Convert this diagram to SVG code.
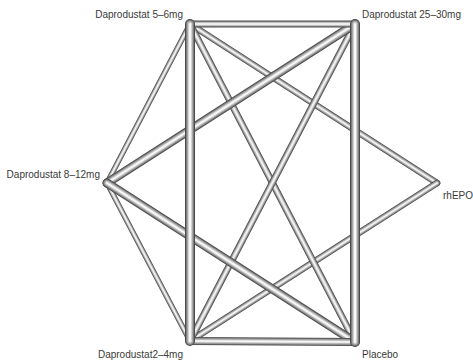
<svg xmlns="http://www.w3.org/2000/svg" width="473" height="362" viewBox="0 0 473 362">
<style>
.bg{fill:#ffffff}
.lbl{font-family:"Liberation Sans",Arial,sans-serif;font-size:10px;fill:#3a3a3a}
.edge line{stroke-linecap:round}
.l1{stroke:#4a4a4a}
.l2{stroke:#7e7e7e}
.l3{stroke:#a8a8a8}
.l4{stroke:#d2d2d2}
.l5{stroke:#f7f7f7}
</style>
<rect class="bg" x="0" y="0" width="473" height="362"/>
<g id="connectors">
<g class="edge" id="e-56-812">
<line class="l1" x1="190" y1="24" x2="107" y2="183" stroke-width="5.5"/>
<line class="l2" x1="190" y1="24" x2="107" y2="183" stroke-width="4.4"/>
<line class="l3" x1="190" y1="24" x2="107" y2="183" stroke-width="3.3"/>
<line class="l4" x1="190" y1="24" x2="107" y2="183" stroke-width="2.2"/>
<line class="l5" x1="190" y1="24" x2="107" y2="183" stroke-width="1.1"/>
</g>
<g class="edge" id="e-812-24">
<line class="l1" x1="107" y1="183" x2="190" y2="341" stroke-width="5.5"/>
<line class="l2" x1="107" y1="183" x2="190" y2="341" stroke-width="4.4"/>
<line class="l3" x1="107" y1="183" x2="190" y2="341" stroke-width="3.3"/>
<line class="l4" x1="107" y1="183" x2="190" y2="341" stroke-width="2.2"/>
<line class="l5" x1="107" y1="183" x2="190" y2="341" stroke-width="1.1"/>
</g>
<g class="edge" id="e-56-epo">
<line class="l1" x1="190" y1="24" x2="437" y2="183" stroke-width="6.5"/>
<line class="l2" x1="190" y1="24" x2="437" y2="183" stroke-width="5.2"/>
<line class="l3" x1="190" y1="24" x2="437" y2="183" stroke-width="3.9"/>
<line class="l4" x1="190" y1="24" x2="437" y2="183" stroke-width="2.6"/>
<line class="l5" x1="190" y1="24" x2="437" y2="183" stroke-width="1.3"/>
</g>
<g class="edge" id="e-24-epo">
<line class="l1" x1="190" y1="341" x2="437" y2="183" stroke-width="6.5"/>
<line class="l2" x1="190" y1="341" x2="437" y2="183" stroke-width="5.2"/>
<line class="l3" x1="190" y1="341" x2="437" y2="183" stroke-width="3.9"/>
<line class="l4" x1="190" y1="341" x2="437" y2="183" stroke-width="2.6"/>
<line class="l5" x1="190" y1="341" x2="437" y2="183" stroke-width="1.3"/>
</g>
<g class="edge" id="e-56-pl">
<line class="l1" x1="190" y1="24" x2="355" y2="342" stroke-width="7"/>
<line class="l2" x1="190" y1="24" x2="355" y2="342" stroke-width="5.6"/>
<line class="l3" x1="190" y1="24" x2="355" y2="342" stroke-width="4.2"/>
<line class="l4" x1="190" y1="24" x2="355" y2="342" stroke-width="2.8"/>
<line class="l5" x1="190" y1="24" x2="355" y2="342" stroke-width="1.4"/>
</g>
<g class="edge" id="e-2530-24">
<line class="l1" x1="355" y1="24" x2="190" y2="341" stroke-width="7"/>
<line class="l2" x1="355" y1="24" x2="190" y2="341" stroke-width="5.6"/>
<line class="l3" x1="355" y1="24" x2="190" y2="341" stroke-width="4.2"/>
<line class="l4" x1="355" y1="24" x2="190" y2="341" stroke-width="2.8"/>
<line class="l5" x1="355" y1="24" x2="190" y2="341" stroke-width="1.4"/>
</g>
<g class="edge" id="e-2530-812">
<line class="l1" x1="355" y1="24" x2="107" y2="183" stroke-width="9"/>
<line class="l2" x1="355" y1="24" x2="107" y2="183" stroke-width="7.2"/>
<line class="l3" x1="355" y1="24" x2="107" y2="183" stroke-width="5.4"/>
<line class="l4" x1="355" y1="24" x2="107" y2="183" stroke-width="3.6"/>
<line class="l5" x1="355" y1="24" x2="107" y2="183" stroke-width="1.8"/>
</g>
<g class="edge" id="e-812-pl">
<line class="l1" x1="107" y1="183" x2="355" y2="342" stroke-width="9"/>
<line class="l2" x1="107" y1="183" x2="355" y2="342" stroke-width="7.2"/>
<line class="l3" x1="107" y1="183" x2="355" y2="342" stroke-width="5.4"/>
<line class="l4" x1="107" y1="183" x2="355" y2="342" stroke-width="3.6"/>
<line class="l5" x1="107" y1="183" x2="355" y2="342" stroke-width="1.8"/>
</g>
<g class="edge" id="e-56-2530">
<line class="l1" x1="190" y1="24" x2="355" y2="24" stroke-width="7"/>
<line class="l2" x1="190" y1="24" x2="355" y2="24" stroke-width="5.6"/>
<line class="l3" x1="190" y1="24" x2="355" y2="24" stroke-width="4.2"/>
<line class="l4" x1="190" y1="24" x2="355" y2="24" stroke-width="2.8"/>
<line class="l5" x1="190" y1="24" x2="355" y2="24" stroke-width="1.4"/>
</g>
<g class="edge" id="e-24-pl">
<line class="l1" x1="190" y1="341" x2="355" y2="342" stroke-width="8"/>
<line class="l2" x1="190" y1="341" x2="355" y2="342" stroke-width="6.4"/>
<line class="l3" x1="190" y1="341" x2="355" y2="342" stroke-width="4.8"/>
<line class="l4" x1="190" y1="341" x2="355" y2="342" stroke-width="3.2"/>
<line class="l5" x1="190" y1="341" x2="355" y2="342" stroke-width="1.6"/>
</g>
<g class="edge" id="e-56-24">
<line class="l1" x1="190" y1="24" x2="190" y2="341" stroke-width="10"/>
<line class="l2" x1="190" y1="24" x2="190" y2="341" stroke-width="8"/>
<line class="l3" x1="190" y1="24" x2="190" y2="341" stroke-width="6"/>
<line class="l4" x1="190" y1="24" x2="190" y2="341" stroke-width="4"/>
<line class="l5" x1="190" y1="24" x2="190" y2="341" stroke-width="2"/>
</g>
<g class="edge" id="e-2530-pl">
<line class="l1" x1="355" y1="24" x2="355" y2="342" stroke-width="10"/>
<line class="l2" x1="355" y1="24" x2="355" y2="342" stroke-width="8"/>
<line class="l3" x1="355" y1="24" x2="355" y2="342" stroke-width="6"/>
<line class="l4" x1="355" y1="24" x2="355" y2="342" stroke-width="4"/>
<line class="l5" x1="355" y1="24" x2="355" y2="342" stroke-width="2"/>
</g>
</g>
<g id="node-dap56"><text class="lbl" x="183" y="18" text-anchor="end">Daprodustat 5–6mg</text></g>
<g id="node-dap2530"><text class="lbl" x="362" y="18">Daprodustat 25–30mg</text></g>
<g id="node-dap812"><text class="lbl" x="100" y="178" text-anchor="end">Daprodustat 8–12mg</text></g>
<g id="node-rhepo"><text class="lbl" x="443" y="199">rhEPO</text></g>
<g id="node-dap24"><text class="lbl" x="183" y="358" text-anchor="end">Daprodustat2–4mg</text></g>
<g id="node-placebo"><text class="lbl" x="362" y="358">Placebo</text></g>
</svg>
